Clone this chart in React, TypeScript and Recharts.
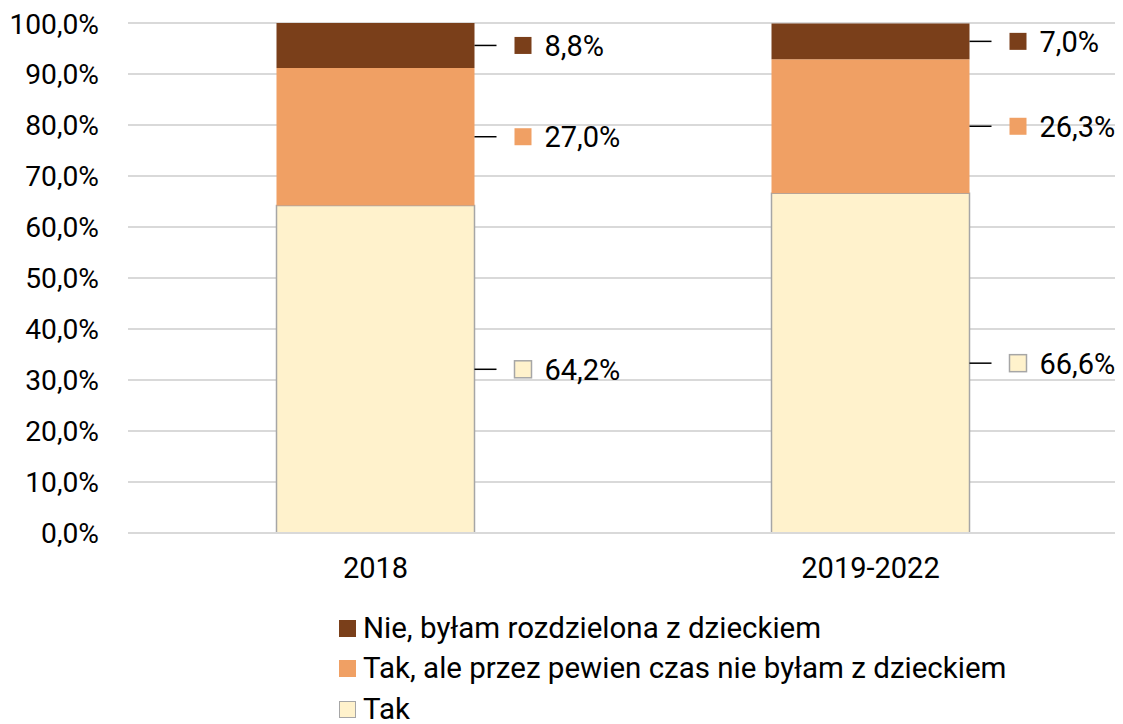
import React from "react";
import {
  BarChart,
  Bar,
  XAxis,
  YAxis,
  CartesianGrid,
  Legend,
  LabelList,
} from "recharts";

const categories = ["2018", "2019-2022"];
const takValues = [64.2, 66.6];
const takAleValues = [27.0, 26.3];
const nieValues = [8.8, 7.0];
const yTicks = [0, 10, 20, 30, 40, 50, 60, 70, 80, 90, 100];

const seriesInfo = [
  { key: "nie", name: "Nie, byłam rozdzielona z dzieckiem", fill: "#7A3F1A", stroke: "none" },
  { key: "takAle", name: "Tak, ale przez pewien czas nie byłam z dzieckiem", fill: "#F0A064", stroke: "none" },
  { key: "tak", name: "Tak", fill: "#FFF2CC", stroke: "#A6A6A6" },
];

const data = categories.map((c, i) => ({
  name: c,
  tak: takValues[i],
  takAle: takAleValues[i],
  nie: nieValues[i],
}));

const fmt = (v: number) => v.toFixed(1).replace(".", ",") + "%";

const FONT = "Roboto, 'Noto Sans', sans-serif";
const FS = 29;

function makeLabel(fill: string, stroke: string) {
  return (props: any) => {
    const { x, y, width, height, value } = props;
    const x0 = Number(x) + Number(width);
    const yc = Number(y) + Number(height) / 2;
    return (
      <g>
        <line x1={x0} y1={yc} x2={x0 + 22} y2={yc} stroke="#000" strokeWidth={1.5} />
        <rect
          x={x0 + 40}
          y={yc - 8.5}
          width={17}
          height={17}
          fill={fill}
          stroke={stroke === "none" ? fill : stroke}
          strokeWidth={stroke === "none" ? 0 : 1.5}
        />
        <text
          x={x0 + 70}
          y={yc}
          dy="0.36em"
          fontSize={FS}
          fontFamily={FONT}
          fill="#000"
        >
          {fmt(Number(value))}
        </text>
      </g>
    );
  };
}

function LegendContent() {
  return (
    <div style={{ fontFamily: FONT, fontSize: 29.5, color: "#000", lineHeight: 1 }}>
      {seriesInfo.map((s) => (
        <div
          key={s.key}
          style={{ display: "flex", alignItems: "center", height: 40.5, whiteSpace: "nowrap" }}
        >
          <span
            style={{
              display: "inline-block",
              width: s.stroke === "none" ? 17 : 15,
              height: s.stroke === "none" ? 17 : 15,
              background: s.fill,
              border: s.stroke === "none" ? "none" : `1.5px solid ${s.stroke}`,
              marginRight: 7,
            }}
          />
          <span style={{ lineHeight: 1 }}>{s.name}</span>
        </div>
      ))}
    </div>
  );
}

export default function App() {
  return (
    <div style={{ width: 1115, height: 716, fontFamily: FONT }}>
      <BarChart
        width={1115}
        height={716}
        data={data}
        margin={{ top: 15, right: 5, bottom: 131, left: 0 }}
        barCategoryGap="30%"
      >
        <CartesianGrid vertical={false} stroke="#D9D9D9" strokeWidth={2} />
        <XAxis
          dataKey="name"
          axisLine={{ stroke: "#D9D9D9", strokeWidth: 2 }}
          tickLine={false}
          tickSize={0}
          tickMargin={24}
          height={60}
          tick={{ fill: "#000", fontSize: FS, fontFamily: FONT }}
        />
        <YAxis
          domain={[0, 100]}
          ticks={yTicks}
          allowDataOverflow
          axisLine={false}
          tickLine={false}
          tickSize={0}
          tickMargin={29}
          width={120}
          tickFormatter={(v: number) => fmt(v)}
          tick={{ fill: "#000", fontSize: 28.2, fontFamily: FONT }}
        />
        <Legend
          layout="vertical"
          verticalAlign="middle"
          align="center"
          content={<LegendContent />}
          wrapperStyle={{ top: 600, left: 331, width: "auto" }}
        />
        <Bar
          dataKey="tak"
          name="Tak"
          stackId="a"
          fill="#FFF2CC"
          stroke="#A6A6A6"
          strokeWidth={1.5}
          isAnimationActive={false}
        >
          <LabelList dataKey="tak" content={makeLabel("#FFF2CC", "#A6A6A6")} />
        </Bar>
        <Bar
          dataKey="takAle"
          name="Tak, ale przez pewien czas nie byłam z dzieckiem"
          stackId="a"
          fill="#F0A064"
          isAnimationActive={false}
        >
          <LabelList dataKey="takAle" content={makeLabel("#F0A064", "none")} />
        </Bar>
        <Bar
          dataKey="nie"
          name="Nie, byłam rozdzielona z dzieckiem"
          stackId="a"
          fill="#7A3F1A"
          isAnimationActive={false}
        >
          <LabelList dataKey="nie" content={makeLabel("#7A3F1A", "none")} />
        </Bar>
      </BarChart>
    </div>
  );
}
